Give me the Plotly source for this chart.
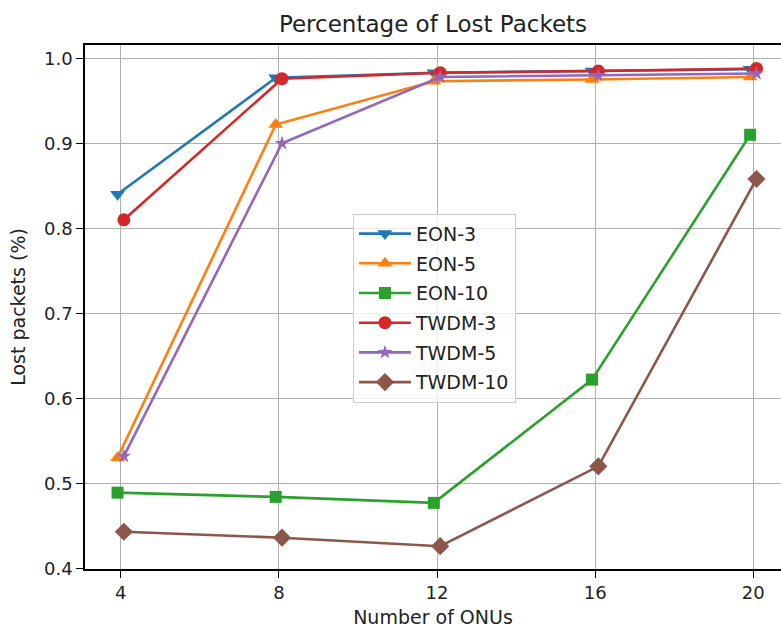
import plotly.graph_objects as go

onus = [4, 8, 12, 16, 20]
eon_offset = -0.08
twdm_offset = 0.08

series_names = ["EON-3", "EON-5", "EON-10", "TWDM-3", "TWDM-5", "TWDM-10"]
eon3 = [0.840, 0.977, 0.983, 0.985, 0.987]
eon5 = [0.530, 0.922, 0.973, 0.975, 0.978]
eon10 = [0.489, 0.484, 0.477, 0.622, 0.910]
twdm3 = [0.810, 0.976, 0.983, 0.985, 0.988]
twdm5 = [0.532, 0.900, 0.978, 0.980, 0.982]
twdm10 = [0.443, 0.436, 0.426, 0.520, 0.858]

yticks = [0.4, 0.5, 0.6, 0.7, 0.8, 0.9, 1.0]

colors = ["#1f77b4", "#ff7f0e", "#2ca02c", "#d62728", "#9467bd", "#8c564b"]
symbols = ["triangle-down", "triangle-up", "square", "circle", "star", "diamond"]
sizes = [13, 13, 12, 13, 11, 14]
values = [eon3, eon5, eon10, twdm3, twdm5, twdm10]
offsets = [eon_offset] * 3 + [twdm_offset] * 3

fig = go.Figure()
for i, name in enumerate(series_names):
    fig.add_trace(go.Scatter(
        x=[v + offsets[i] for v in onus], y=values[i], name=name,
        mode="lines+markers", legendgroup=name,
        line=dict(color=colors[i], width=2.6),
        marker=dict(symbol=symbols[i], size=sizes[i], color=colors[i]),
    ))

font = "DejaVu Sans, sans-serif"
fig.update_layout(
    width=781, height=631,
    margin=dict(l=85, r=0, t=45, b=62),
    plot_bgcolor="white", paper_bgcolor="white",
    font=dict(family=font, size=19, color="#222"),
    title=dict(text="Percentage of Lost Packets", x=0.5, xanchor="center",
               xref="paper", y=1 - 24 / 631, yanchor="middle",
               font=dict(size=23, color="#222")),
    legend=dict(x=0.385, y=0.678, xanchor="left", yanchor="top",
                bgcolor="rgba(255,255,255,0.8)", bordercolor="#cccccc",
                borderwidth=1, font=dict(size=19, color="#222"),
                traceorder="grouped", tracegroupgap=2, itemwidth=52),
    showlegend=True,
)
fig.update_xaxes(
    range=[3.097, 20.70], tickvals=onus, ticktext=[str(v) for v in onus],
    tickfont=dict(size=18),
    showgrid=True, gridcolor="#b0b0b0", gridwidth=1.4,
    showline=True, linecolor="black", linewidth=1.6, mirror=True,
    ticks="outside", ticklen=7, tickcolor="black", zeroline=False,
    title=dict(text="Number of ONUs", font=dict(size=19), standoff=8),
)
fig.update_yaxes(
    range=[0.3992, 1.0156], tickvals=yticks, ticktext=[f"{v:.1f}" for v in yticks],
    tickfont=dict(size=18),
    showgrid=True, gridcolor="#b0b0b0", gridwidth=1.4,
    showline=True, linecolor="black", linewidth=1.6, mirror=False,
    ticks="outside", ticklen=7, tickcolor="black", zeroline=False,
    title=dict(text="Lost packets (%)", font=dict(size=19), standoff=13),
)

fig.write_html("out.html")
